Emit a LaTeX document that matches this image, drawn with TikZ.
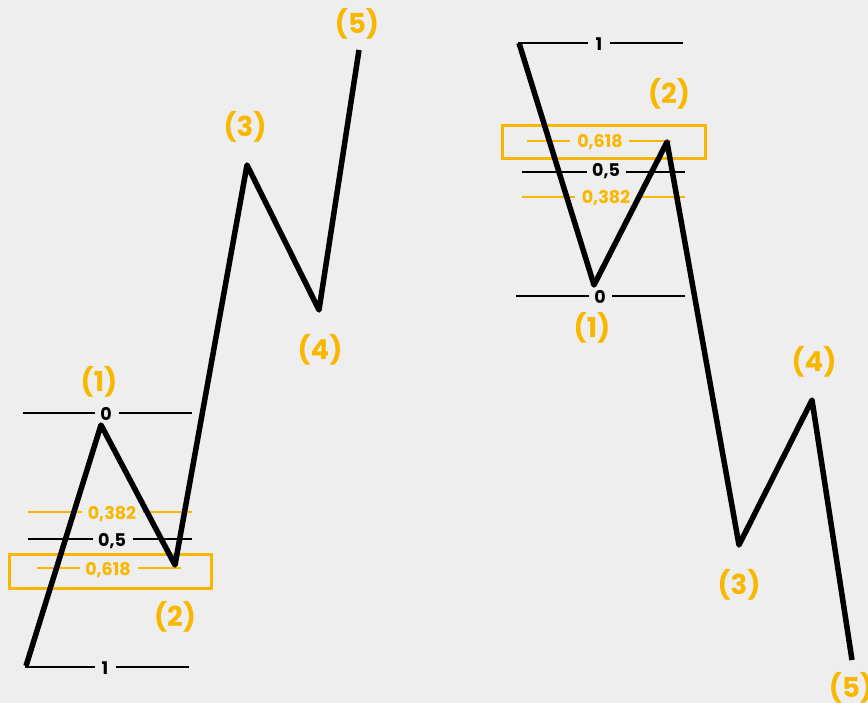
\documentclass[tikz,border=0pt]{standalone}
\usepackage{fontspec}
\setmainfont{Poppins}
\definecolor{bg}{HTML}{EEEEEE}
\definecolor{gold}{HTML}{F9B700}
\tikzset{
  wave/.style={line width=5.5pt, black, line join=round},
  fibk/.style={line width=2.8pt, black},
  fibo/.style={line width=2.8pt, gold},
  fibtxt/.style={font=\fontsize{17.5}{17.5}\selectfont\bfseries, inner sep=0pt},
  wlabel/.style={font=\fontsize{27.5}{27.5}\selectfont\bfseries, text=gold, inner sep=0pt},
  fibbox/.style={draw=gold, line width=3pt},
}
\begin{document}
\begin{tikzpicture}[x=1pt,y=-1pt]
\fill[bg] (0,0) rectangle (868,703);
\useasboundingbox (0,0) rectangle (868,703);

% ---------- left ----------
\coordinate (L0) at (26,666);
\coordinate (L1) at (101,425);
\coordinate (L2) at (175,565);
\coordinate (L3) at (247,165);
\coordinate (L4) at (319,310);
\coordinate (L5) at (359,50);

\node[fibbox, minimum width=202pt, minimum height=34pt, anchor=north west] (lbox) at (8,553) {};

% fib 0
\coordinate (a1) at (23,413); \coordinate (a2) at (95,413);
\coordinate (a3) at (119,413); \coordinate (a4) at (192,413);
\draw[fibk] (a1) -- (a2); \draw[fibk] (a3) -- (a4);
\node[fibtxt] (l0) at (106,414) {0};
% fib 0,382
\coordinate (b1) at (28,512); \coordinate (b2) at (82,512);
\coordinate (b3) at (143,512); \coordinate (b4) at (192,512);
\draw[fibo] (b1) -- (b2); \draw[fibo] (b3) -- (b4);
\node[fibtxt, text=gold] (l382) at (112,514) {0,382};
% fib 0,5
\coordinate (c1) at (28,539); \coordinate (c2) at (93,539);
\coordinate (c3) at (133,539); \coordinate (c4) at (192,539);
\draw[fibk] (c1) -- (c2); \draw[fibk] (c3) -- (c4);
\node[fibtxt] (l05) at (112,541) {0,5};
% fib 0,618
\coordinate (d1) at (37,568); \coordinate (d2) at (80,568);
\coordinate (d3) at (138,568); \coordinate (d4) at (181,568);
\draw[fibo] (d1) -- (d2); \draw[fibo] (d3) -- (d4);
\node[fibtxt, text=gold] (l618) at (108,570) {0,618};
% fib 1
\coordinate (e1) at (25,667); \coordinate (e2) at (95,667);
\coordinate (e3) at (116,667); \coordinate (e4) at (189,667);
\draw[fibk] (e1) -- (e2); \draw[fibk] (e3) -- (e4);
\node[fibtxt] (l1) at (105,668) {1};

\draw[wave] (L0) -- (L1) -- (L2) -- (L3) -- (L4) -- (L5);

\node[wlabel] (w1) at (99,382) {(1)};
\node[wlabel] (w2) at (175,617) {(2)};
\node[wlabel] (w3) at (245,127) {(3)};
\node[wlabel] (w4) at (320,350) {(4)};
\node[wlabel] (w5) at (357,24) {(5)};

% ---------- right ----------
\coordinate (R0) at (519,43);
\coordinate (R1) at (594,285);
\coordinate (R2) at (667,142);
\coordinate (R3) at (739,545);
\coordinate (R4) at (812,400);
\coordinate (R5) at (852,660);

\node[fibbox, minimum width=203pt, minimum height=33pt, anchor=north west] (rbox) at (501,124) {};

% fib 1
\coordinate (f1) at (518,43); \coordinate (f2) at (588,43);
\coordinate (f3) at (610,43); \coordinate (f4) at (683,43);
\draw[fibk] (f1) -- (f2); \draw[fibk] (f3) -- (f4);
\node[fibtxt] (r1) at (599,44) {1};
% fib 0,618
\coordinate (g1) at (527,141); \coordinate (g2) at (570,141);
\coordinate (g3) at (629,141); \coordinate (g4) at (671,141);
\draw[fibo] (g1) -- (g2); \draw[fibo] (g3) -- (g4);
\node[fibtxt, text=gold] (r618) at (600,142) {0,618};
% fib 0,5
\coordinate (h1) at (522,172); \coordinate (h2) at (587,172);
\coordinate (h3) at (626,172); \coordinate (h4) at (685,172);
\draw[fibk] (h1) -- (h2); \draw[fibk] (h3) -- (h4);
\node[fibtxt] (r05) at (606,171) {0,5};
% fib 0,382
\coordinate (i1) at (522,197); \coordinate (i2) at (575,197);
\coordinate (i3) at (636,197); \coordinate (i4) at (685,197);
\draw[fibo] (i1) -- (i2); \draw[fibo] (i3) -- (i4);
\node[fibtxt, text=gold] (r382) at (606,198) {0,382};
% fib 0
\coordinate (j1) at (516,296); \coordinate (j2) at (589,296);
\coordinate (j3) at (612,296); \coordinate (j4) at (685,296);
\draw[fibk] (j1) -- (j2); \draw[fibk] (j3) -- (j4);
\node[fibtxt] (r0) at (600,297) {0};

\draw[wave] (R0) -- (R1) -- (R2) -- (R3) -- (R4) -- (R5);

\node[wlabel] (v1) at (592,328) {(1)};
\node[wlabel] (v2) at (669,94) {(2)};
\node[wlabel] (v3) at (739,585) {(3)};
\node[wlabel] (v4) at (814,362) {(4)};
\node[wlabel] (v5) at (851,688) {(5)};
\end{tikzpicture}
\end{document}
